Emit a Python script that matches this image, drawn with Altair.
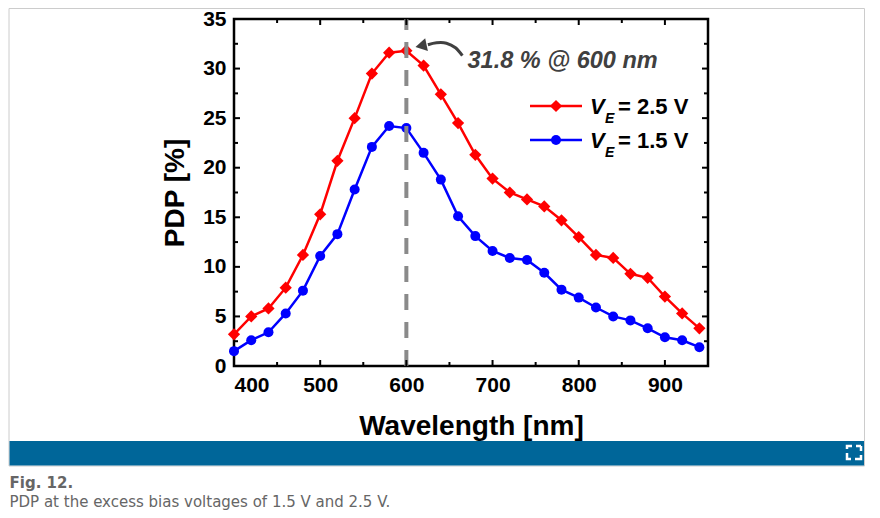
import altair as alt
import pandas as pd

# ---------------- data ----------------
wavelength = [400, 420, 440, 460, 480, 500, 520, 540, 560, 580, 600, 620, 640, 660,
              680, 700, 720, 740, 760, 780, 800, 820, 840, 860, 880, 900, 920, 940]
pdp_25 = [3.2, 5.0, 5.8, 7.9, 11.2, 15.3, 20.7, 25.0, 29.5, 31.6, 31.8, 30.3, 27.4, 24.5,
          21.3, 18.9, 17.5, 16.8, 16.1, 14.7, 13.0, 11.2, 10.9, 9.3, 8.9, 7.0, 5.3, 3.8]
pdp_15 = [1.5, 2.6, 3.4, 5.3, 7.6, 11.1, 13.3, 17.8, 22.1, 24.2, 24.0, 21.5, 18.8, 15.1,
          13.1, 11.6, 10.9, 10.7, 9.4, 7.7, 6.9, 5.9, 5.0, 4.6, 3.8, 2.9, 2.6, 1.9]

x_major = [400, 500, 600, 700, 800, 900]
x_minor = [450, 550, 650, 750, 850]
y_major = [0, 5, 10, 15, 20, 25, 30, 35]
y_minor = [2.5, 7.5, 12.5, 17.5, 22.5, 27.5, 32.5]

peak_wl = [600]
annot_text = "31.8 % @ 600 nm"
annot_wl = [671]
annot_pdp = [30.8]
arrow_wl = [665, 657, 646.5, 635, 625]
arrow_pdp = [31.3, 32.1, 32.56, 32.6, 32.4]
arrow_head_wl = [617]
arrow_head_pdp = [32.3]

legend_v = "V"
legend_sub = "E"
legend_25 = "= 2.5 V"
legend_15 = "= 1.5 V"
x_title = "Wavelength [nm]"
y_title = "PDP [%]"
fig_label = "Fig. 12."
fig_caption = "PDP at the excess bias voltages of 1.5 V and 2.5 V."

# ---------------- layout ----------------
W, H = 474, 347
FONT = "Liberation Sans"
RED = "#ff0000"
BLUE = "#0000ff"

xs = alt.Scale(domain=[400, 950], nice=False, zero=False)
ys = alt.Scale(domain=[0, 35], nice=False, zero=False)

xax = alt.Axis(values=x_major, title=x_title, grid=False, ticks=False, tickSize=0,
               domain=False, labelPadding=8, titlePadding=17, format="d")
yax = alt.Axis(values=y_major, title=y_title, grid=False, ticks=False, tickSize=0,
               domain=False, labelPadding=8, titlePadding=13, format="d")


def X(field):
    return alt.X(field, scale=xs, axis=xax)


def Y(field):
    return alt.Y(field, scale=ys, axis=yax)


one = pd.DataFrame({"a": [0]})

df25 = pd.DataFrame({"wl": wavelength, "pdp": pdp_25})
df15 = pd.DataFrame({"wl": wavelength, "pdp": pdp_15})

line25 = alt.Chart(df25).mark_line(color=RED, strokeWidth=2.5).encode(
    x=X("wl:Q"), y=Y("pdp:Q"))
pts25 = alt.Chart(df25).mark_point(shape="diamond", filled=True, size=150, color=RED,
                                   opacity=1).encode(x=X("wl:Q"), y=Y("pdp:Q"))
line15 = alt.Chart(df15).mark_line(color=BLUE, strokeWidth=2.5).encode(
    x=X("wl:Q"), y=Y("pdp:Q"))
pts15 = alt.Chart(df15).mark_point(shape="circle", filled=True, size=100, color=BLUE,
                                   opacity=1).encode(x=X("wl:Q"), y=Y("pdp:Q"))

# dashed marker line at the peak
dash = alt.Chart(pd.DataFrame({"wl": peak_wl, "pdp": [0], "y1": [35]})).mark_rule(
    color="#8a8a8a", strokeWidth=4, strokeDash=[16, 12]).encode(
    x=X("wl:Q"), y=Y("pdp:Q"), y2="y1:Q")


# inward ticks on all four sides
def xticks(vals, length, top):
    d = pd.DataFrame({"wl": vals})
    y0, y1 = (0, length) if top else (H, H - length)
    return alt.Chart(d).mark_rule(color="black", strokeWidth=2).encode(
        x=X("wl:Q"), y=alt.value(y0), y2=alt.value(y1))


def yticks(vals, length, right):
    d = pd.DataFrame({"pdp": vals})
    x0, x1 = (W, W - length) if right else (0, length)
    return alt.Chart(d).mark_rule(color="black", strokeWidth=2).encode(
        y=Y("pdp:Q"), x=alt.value(x0), x2=alt.value(x1))


ticks = [xticks(x_major, 6, False), xticks(x_minor, 4, False),
         xticks(x_major, 6, True), xticks(x_minor, 4, True),
         yticks(y_major, 6, False), yticks(y_minor, 4, False),
         yticks(y_major, 6, True), yticks(y_minor, 4, True)]

# annotation
ann_color = "#404040"
ann = alt.Chart(pd.DataFrame({"wl": annot_wl, "pdp": annot_pdp})).mark_text(
    text=annot_text, align="left", baseline="middle", font=FONT, fontSize=23.5,
    fontWeight="bold", fontStyle="italic", color=ann_color).encode(
    x=X("wl:Q"), y=Y("pdp:Q"))
arrow = alt.Chart(pd.DataFrame({"wl": arrow_wl, "pdp": arrow_pdp,
                                "i": list(range(len(arrow_wl)))})).mark_line(
    color=ann_color, strokeWidth=3, interpolate="cardinal").encode(
    x=X("wl:Q"), y=Y("pdp:Q"), order="i:Q")
head = alt.Chart(pd.DataFrame({"wl": arrow_head_wl, "pdp": arrow_head_pdp})).mark_point(
    shape="triangle-left", filled=True, size=170, color=ann_color, opacity=1,
    angle=348).encode(x=X("wl:Q"), y=Y("pdp:Q"))


# legend (manual, for the subscript)
def legend_row(y, color, shape, size, label):
    line = alt.Chart(one).mark_rule(color=color, strokeWidth=2.5).encode(
        x=alt.value(296), x2=alt.value(348), y=alt.value(y))
    mk = alt.Chart(one).mark_point(shape=shape, filled=True, size=size, color=color,
                                   opacity=1).encode(x=alt.value(322), y=alt.value(y))
    v = alt.Chart(one).mark_text(text=legend_v, align="left", baseline="alphabetic",
                                 font=FONT, fontSize=22, fontWeight="bold",
                                 fontStyle="italic", color="black").encode(
        x=alt.value(356), y=alt.value(y + 8))
    e = alt.Chart(one).mark_text(text=legend_sub, align="left", baseline="alphabetic",
                                 font=FONT, fontSize=14, fontWeight="bold",
                                 fontStyle="italic", color="black").encode(
        x=alt.value(371), y=alt.value(y + 17))
    t = alt.Chart(one).mark_text(text=label, align="left", baseline="alphabetic",
                                 font=FONT, fontSize=22, fontWeight="bold",
                                 color="black").encode(
        x=alt.value(384), y=alt.value(y + 8))
    return [line, mk, v, e, t]


legend = legend_row(87, RED, "diamond", 150, legend_25) + \
    legend_row(121, BLUE, "circle", 100, legend_15)

# page decorations: frame, blue bar, expand icon, caption
frame = alt.Chart(one).mark_rect(fillOpacity=0, stroke="#cccccc", strokeWidth=1).encode(
    x=alt.value(-225), x2=alt.value(630.5), y=alt.value(-10.5), y2=alt.value(447))
bar = alt.Chart(one).mark_rect(color="#006699").encode(
    x=alt.value(-224.5), x2=alt.value(630), y=alt.value(422), y2=alt.value(446.5))
icon = alt.Chart(one).mark_rect(fillOpacity=0, stroke="white", strokeWidth=2.5,
                                strokeDash=[5, 4, 5, 0]).encode(
    x=alt.value(613), x2=alt.value(627), y=alt.value(427), y2=alt.value(440))
cap1 = alt.Chart(one).mark_text(text=fig_label, align="left", baseline="alphabetic",
                                font="DejaVu Sans", fontSize=15, fontWeight="bold",
                                color="#666666").encode(x=alt.value(-224.5), y=alt.value(469))
cap2 = alt.Chart(one).mark_text(text=fig_caption, align="left", baseline="alphabetic",
                                font="DejaVu Sans", fontSize=15, color="#666666").encode(
    x=alt.value(-224.5), y=alt.value(488))

chart = alt.layer(
    line25, line15, pts15, pts25, dash, *ticks, arrow, head, ann,
    frame, bar, icon, cap1, cap2, *legend
).properties(
    width=W, height=H,
    padding={"left": 226, "top": 11, "right": 158, "bottom": 144},
    autosize=alt.AutoSizeParams(type="none"),
).configure_view(
    stroke="black", strokeWidth=2.5
).configure_axis(
    labelFont=FONT, labelFontSize=21, labelFontWeight="bold", labelColor="black",
    titleFont=FONT, titleFontSize=28, titleFontWeight="bold", titleColor="black",
)

chart.save("out.html", embed_options={"renderer": "svg", "actions": False})
